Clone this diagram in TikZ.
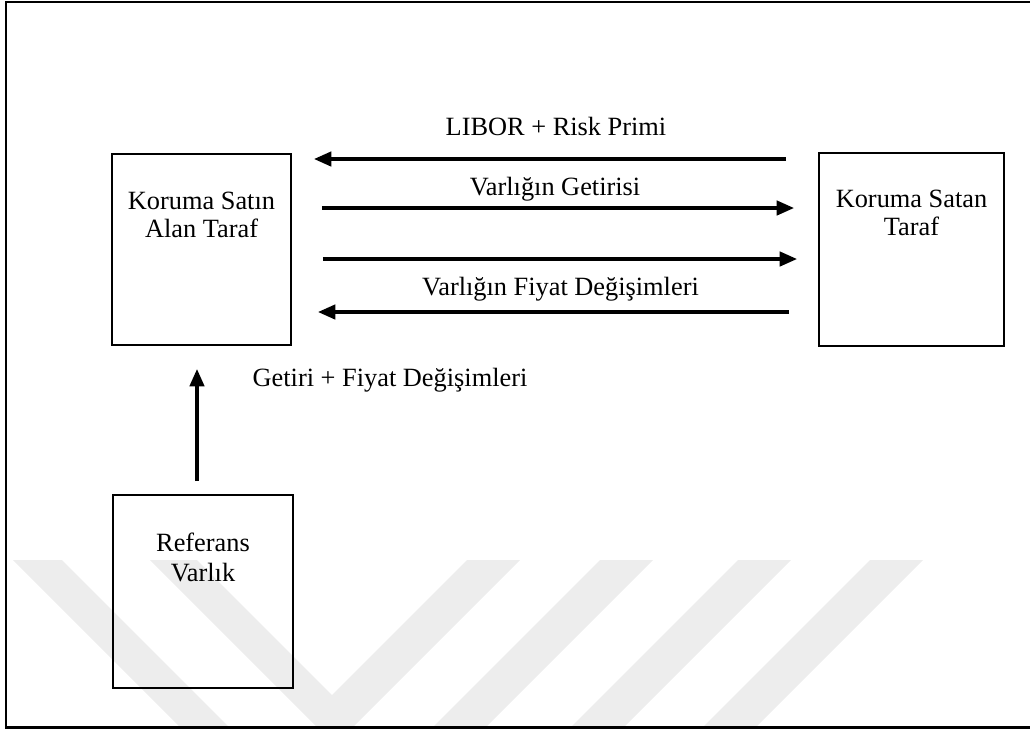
\documentclass[tikz,border=0pt]{standalone}
\usepackage{fontspec}
\setmainfont{Liberation Serif}
\usetikzlibrary{arrows.meta}

\tikzset{
  party/.style={draw, line width=0.8pt, inner sep=0pt},
  partytext/.style={align=center, font=\fontsize{12}{12.5}\selectfont},
  flowlabel/.style={anchor=base, inner sep=0pt, font=\fontsize{12}{14}\selectfont},
  flow/.style={line width=1.7pt, -{Triangle[length=8pt,width=6.5pt]}},
  watermark/.style={fill=black!7, draw=none},
}

\begin{document}
\begin{tikzpicture}[x=0.016cm, y=-0.016cm]
  \useasboundingbox (0,0) rectangle (1030,729);

  % faint watermark behind everything
  \fill[watermark] (13,560) -- (62,560) -- (230,728) -- (181,728) -- cycle;
  \fill[watermark] (150,560) -- (197,560) -- (332,695) -- (467,560) -- (520,560)
    -- (352,728) -- (318,728) -- cycle;
  \foreach \a in {600,738,870}
    \fill[watermark] (\a,560) -- (\a+53,560) -- (\a-115,728) -- (\a-168,728) -- cycle;

  % outer frame
  \draw[line width=1pt] (1030,2) -- (6,2) -- (6,727.5) -- (1030,727.5);

  % parties
  \node[party, minimum width=2.864cm, minimum height=3.056cm] (buyer) at (201.5,249.5) {};
  \node[party, minimum width=2.96cm, minimum height=3.088cm] (seller) at (911.5,249.5) {};
  \node[party, minimum width=2.88cm, minimum height=3.088cm] (refasset) at (203,591.5) {};

  \node[partytext] (buyertext) at (201.5,215) {Koruma Satın\\Alan Taraf};
  \node[partytext] (sellertext) at (911.5,213) {Koruma Satan\\Taraf};
  \node[partytext] (reftext) at (203,557) {Referans\\[1.2pt]Varlık};

  % payment flows
  \draw[flow] ([shift={(-32,-90.5)}]seller.west) -- ([shift={(22,-90.5)}]buyer.east);
  \draw[flow] ([shift={(30,-41.5)}]buyer.east) -- ([shift={(-24,-41.5)}]seller.west);
  \draw[flow] ([shift={(31,9.5)}]buyer.east) -- ([shift={(-21,9.5)}]seller.west);
  \draw[flow] ([shift={(-29,62.5)}]seller.west) -- ([shift={(26,62.5)}]buyer.east);
  \draw[flow] ([shift={(-6,-13)}]refasset.north) -- ([shift={(-4.5,23)}]buyer.south);

  \node[flowlabel] (libor) at (556,135) {LIBOR + Risk Primi};
  \node[flowlabel] (getiri) at (555,195) {Varlığın Getirisi};
  \node[flowlabel] (fiyat) at (560.5,295) {Varlığın Fiyat Değişimleri};
  \node[flowlabel] (refflow) at (390,386) {Getiri + Fiyat Değişimleri};
\end{tikzpicture}
\end{document}
